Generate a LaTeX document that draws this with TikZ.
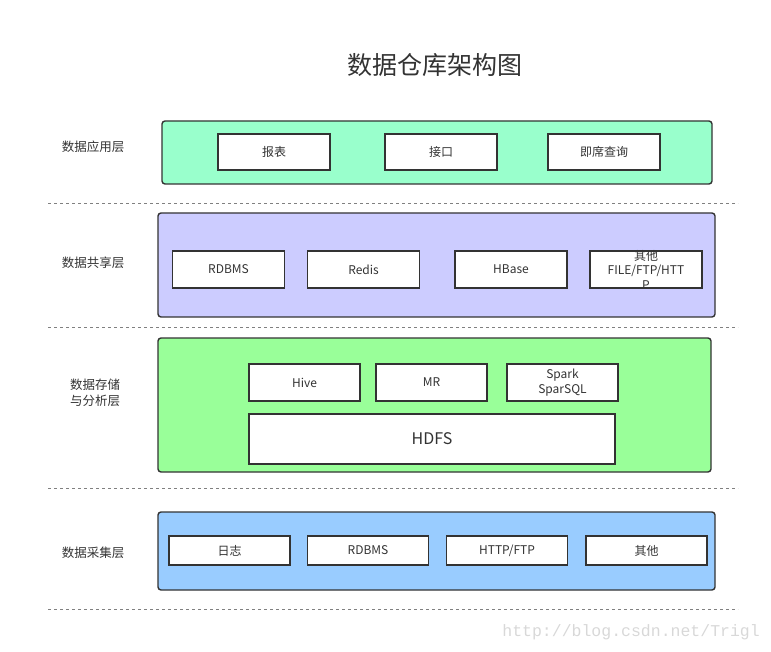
\documentclass[tikz,border=0pt]{standalone}
\usepackage{fontspec}
\setmainfont{Noto Sans CJK SC}
\newfontfamily\wmfont{Liberation Mono}
\usetikzlibrary{positioning}
\definecolor{appgreen}{HTML}{99FFCC}
\definecolor{sharepurple}{HTML}{CCCCFF}
\definecolor{storegreen}{HTML}{99FF99}
\definecolor{collectblue}{HTML}{99CCFF}
\definecolor{edgegray}{HTML}{333333}
\definecolor{wmgray}{HTML}{D8D8D8}
\newcommand{\txtsize}[1]{\fontsize{#1}{#1}\selectfont}

\begin{document}
\begin{tikzpicture}[x=1pt, y=-1pt,
  every node/.style = {text=edgegray, inner sep=0pt},
  layer/.style = {draw=edgegray, line width=1.4pt, rounded corners=3pt},
  item/.style = {draw=edgegray, fill=white, line width=1.4pt,
    minimum width=112pt, minimum height=37pt, font=\txtsize{12}},
  tag/.style = {align=center, font=\fontsize{12.5}{16}\selectfont},
  sep/.style = {draw=gray, dashed, line width=0.6pt}]
  \useasboundingbox (0,0) rectangle (771,652);

  % title
  \node[font=\txtsize{25}] (title) at (435,65) {数据仓库架构图};

  % separators
  \foreach \y in {203,327,488,609}
    \draw[sep] (48,\y) -- (738,\y);

  % application layer
  \node[tag] (appTag) at (93,147) {数据应用层};
  \node[layer, fill=appgreen, minimum width=550pt, minimum height=63pt] (app) at (437,152.5) {};
  \node[item, minimum height=36pt] (report) at (274,152) {报表};
  \node[item, minimum height=36pt] (api) at (441,152) {接口};
  \node[item, minimum height=36pt] (adhoc) at (604,152) {即席查询};

  % sharing layer
  \node[tag] (shareTag) at (93,263) {数据共享层};
  \node[layer, fill=sharepurple, minimum width=557pt, minimum height=104pt] (share) at (436.5,265) {};
  \node[item] (shareRdbms) at (228.5,269.5) {RDBMS};
  \node[item] (redis) at (363.5,269.5) {Redis};
  \node[item] (hbase) at (511,269.5) {HBase};
  \node[item] (shareOther) at (646,269.5) {};
  \node[align=center, font=\fontsize{12}{14.5}\selectfont] (shareOtherTxt) at (shareOther) {其他\\FILE/FTP/HTT\\P};

  % storage and analysis layer
  \node[tag] (storeTag) at (95,393) {数据存储\\与分析层};
  \node[layer, fill=storegreen, minimum width=553pt, minimum height=134pt] (store) at (434.5,405) {};
  \node[item, minimum width=111pt] (hive) at (304.5,382.5) {Hive};
  \node[item, minimum width=111pt] (mr) at (431.5,382.5) {MR};
  \node[item, minimum width=111pt, align=center, font=\fontsize{12}{15}\selectfont] (spark) at (562.5,382.5) {Spark\\SparSQL};
  \node[item, minimum width=366pt, minimum height=50pt, font=\txtsize{16}] (hdfs) at (432,439) {HDFS};

  % collection layer
  \node[tag] (collectTag) at (93,553) {数据采集层};
  \node[layer, fill=collectblue, minimum width=557pt, minimum height=78pt] (collect) at (436.5,551) {};
  \node[item, minimum width=121pt, minimum height=29pt] (log) at (229.5,550.5) {日志};
  \node[item, minimum width=121pt, minimum height=29pt] (collectRdbms) at (368,550.5) {RDBMS};
  \node[item, minimum width=121pt, minimum height=29pt] (http) at (507,550.5) {HTTP/FTP};
  \node[item, minimum width=121pt, minimum height=29pt] (collectOther) at (646.5,550.5) {其他};

  % watermark
  \node[text=wmgray, font=\wmfont\txtsize{16.5}, anchor=east] (mark) at (760,632) {http://blog.csdn.net/Trigl};
\end{tikzpicture}
\end{document}
